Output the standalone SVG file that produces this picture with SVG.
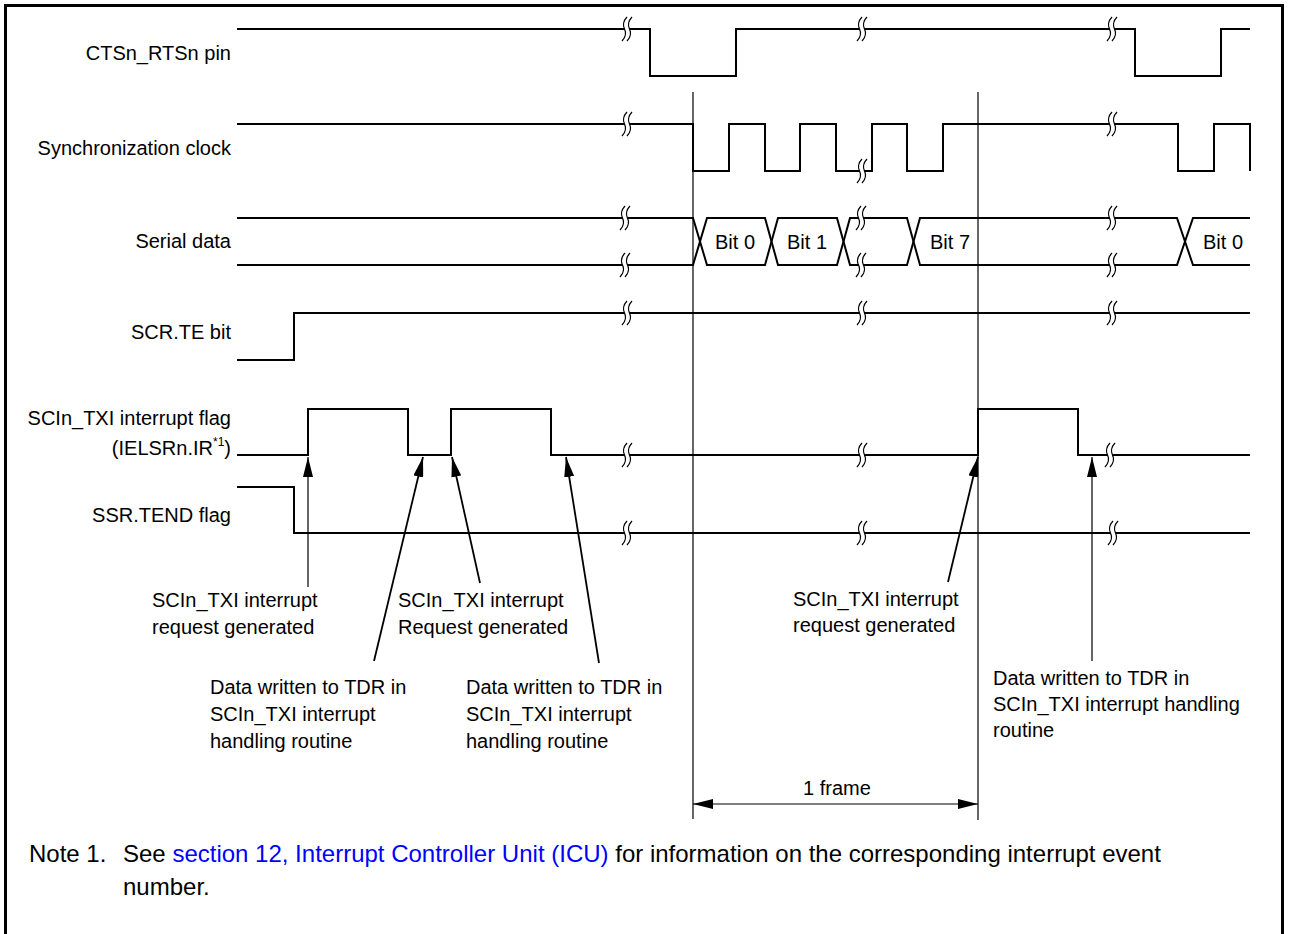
<svg xmlns="http://www.w3.org/2000/svg" width="1290" height="934" viewBox="0 0 1290 934">
<style>
text{font-family:"Liberation Sans",Arial,sans-serif;fill:#000}
.lbl{font-size:20px}
.lr{text-anchor:end}
.note{font-size:24px}
.link{fill:#0000ff}
.wave{fill:none;stroke:#000;stroke-width:2;stroke-linejoin:miter}
.thin{fill:none;stroke:#000;stroke-width:1.2}
.arr{fill:none;stroke:#000;stroke-width:1.8}
.arrthin{fill:none;stroke:#000;stroke-width:1.2}
</style>
<defs>
<marker id="ah" markerUnits="userSpaceOnUse" markerWidth="20" markerHeight="10" refX="20" refY="5" orient="auto"><path d="M0,0 L20,5 L0,10 z" fill="#000"/></marker>
<marker id="ahs" markerUnits="userSpaceOnUse" markerWidth="20" markerHeight="10" refX="20" refY="5" orient="auto-start-reverse"><path d="M0,0 L20,5 L0,10 z" fill="#000"/></marker>
<g id="brk">
<path d="M2.5,-12 C-1.5,-8 -1.5,-3 0,0 C1.5,3 1.5,8 -2.5,12" fill="none" stroke="#fff" stroke-width="5"/>
<path d="M0,-12 C-4,-8 -4,-3 -2.5,0 C-1,3 -1,8 -5,12" fill="none" stroke="#000" stroke-width="1.3"/>
<path d="M5,-12 C1,-8 1,-3 2.5,0 C4,3 4,8 0,12" fill="none" stroke="#000" stroke-width="1.3"/>
</g>
</defs>
<rect width="1290" height="934" fill="#fff"/>
<path d="M5.5,940 V5.5 H1282.5 V940" fill="none" stroke="#000" stroke-width="3"/>

<g id="frame-lines">
<line x1="693" y1="92" x2="693" y2="819" class="thin"/>
<line x1="978" y1="92" x2="978" y2="820" class="thin"/>
</g>

<g id="cts">
<text class="lbl lr" x="231" y="60">CTSn_RTSn pin</text>
<path class="wave" d="M237,29 H650 V76 H736 V29 H1135 V76 H1221 V29 H1250"/>
<use href="#brk" x="627" y="29"/><use href="#brk" x="862" y="29"/><use href="#brk" x="1112" y="29"/>
</g>

<g id="sclk">
<text class="lbl lr" x="231" y="155">Synchronization clock</text>
<path class="wave" d="M237,124 H693 V171 H729 V124 H765 V171 H800 V124 H836 V171 H872 V124 H907 V171 H943 V124 H1178 V171 H1214 V124 H1250 V171"/>
<use href="#brk" x="627" y="124"/><use href="#brk" x="862" y="171"/><use href="#brk" x="1112" y="124"/>
</g>

<g id="sdata">
<text class="lbl lr" x="231" y="248">Serial data</text>
<path class="wave" d="M237,218 H693 L707,265 H765 L778,218 H837 L850,265 H907 L920,218 H1177 L1193,265 H1250"/>
<path class="wave" d="M237,265 H693 L707,218 H765 L778,265 H837 L850,218 H907 L920,265 H1177 L1193,218 H1250"/>
<use href="#brk" x="625" y="218"/><use href="#brk" x="625" y="265"/>
<use href="#brk" x="861" y="218"/><use href="#brk" x="861" y="265"/>
<use href="#brk" x="1112" y="218"/><use href="#brk" x="1112" y="265"/>
<text class="lbl" x="735" y="249" text-anchor="middle">Bit 0</text>
<text class="lbl" x="807" y="249" text-anchor="middle">Bit 1</text>
<text class="lbl" x="950" y="249" text-anchor="middle">Bit 7</text>
<text class="lbl" x="1223" y="249" text-anchor="middle">Bit 0</text>
</g>

<g id="scrte">
<text class="lbl lr" x="231" y="339">SCR.TE bit</text>
<path class="wave" d="M237,360 H294 V313 H1250"/>
<use href="#brk" x="627" y="313"/><use href="#brk" x="862" y="313"/><use href="#brk" x="1112" y="313"/>
</g>

<g id="txiflag">
<text class="lbl lr" x="231" y="425">SCIn_TXI interrupt flag</text>
<text class="lbl lr" x="231" y="455">(IELSRn.IR<tspan font-size="12" dy="-9">*1</tspan><tspan dy="9">)</tspan></text>
<path class="wave" d="M237,455 H308 V409 H408 V455 H451 V409 H551 V455 H978 V409 H1078 V455 H1250"/>
<use href="#brk" x="627" y="455"/><use href="#brk" x="862" y="455"/><use href="#brk" x="1110" y="455"/>
</g>

<g id="tend">
<text class="lbl lr" x="231" y="522">SSR.TEND flag</text>
<path class="wave" d="M237,487 H294 V533 H1250"/>
<use href="#brk" x="627" y="533"/><use href="#brk" x="862" y="533"/><use href="#brk" x="1113" y="533"/>
</g>

<g id="connectors">
<line class="arrthin" x1="308" y1="587" x2="308" y2="457" marker-end="url(#ah)"/>
<line class="arr" x1="374" y1="661" x2="423" y2="457" marker-end="url(#ah)"/>
<line class="arr" x1="480" y1="583" x2="452" y2="457" marker-end="url(#ah)"/>
<line class="arr" x1="599" y1="663" x2="566" y2="457" marker-end="url(#ah)"/>
<line class="arr" x1="948" y1="582" x2="978" y2="457" marker-end="url(#ah)"/>
<line class="arrthin" x1="1092" y1="661" x2="1092" y2="457" marker-end="url(#ah)"/>
<line class="thin" x1="693" y1="804" x2="978" y2="804" marker-start="url(#ahs)" marker-end="url(#ahs)"/>
</g>

<g id="annotations">
<text class="lbl" x="152" y="607">SCIn_TXI interrupt</text>
<text class="lbl" x="152" y="634">request generated</text>
<text class="lbl" x="398" y="607">SCIn_TXI interrupt</text>
<text class="lbl" x="398" y="634">Request generated</text>
<text class="lbl" x="210" y="694">Data written to TDR in</text>
<text class="lbl" x="210" y="721">SCIn_TXI interrupt</text>
<text class="lbl" x="210" y="748">handling routine</text>
<text class="lbl" x="466" y="694">Data written to TDR in</text>
<text class="lbl" x="466" y="721">SCIn_TXI interrupt</text>
<text class="lbl" x="466" y="748">handling routine</text>
<text class="lbl" x="793" y="606">SCIn_TXI interrupt</text>
<text class="lbl" x="793" y="632">request generated</text>
<text class="lbl" x="993" y="685">Data written to TDR in</text>
<text class="lbl" x="993" y="711">SCIn_TXI interrupt handling</text>
<text class="lbl" x="993" y="737">routine</text>
<text class="lbl" x="837" y="795" text-anchor="middle">1 frame</text>
</g>

<g id="note">
<text class="note" x="29" y="862">Note 1.</text>
<text class="note" x="123" y="862">See <tspan class="link">section 12, Interrupt Controller Unit (ICU)</tspan> for information on the corresponding interrupt event</text>
<text class="note" x="123" y="895">number.</text>
</g>
</svg>
